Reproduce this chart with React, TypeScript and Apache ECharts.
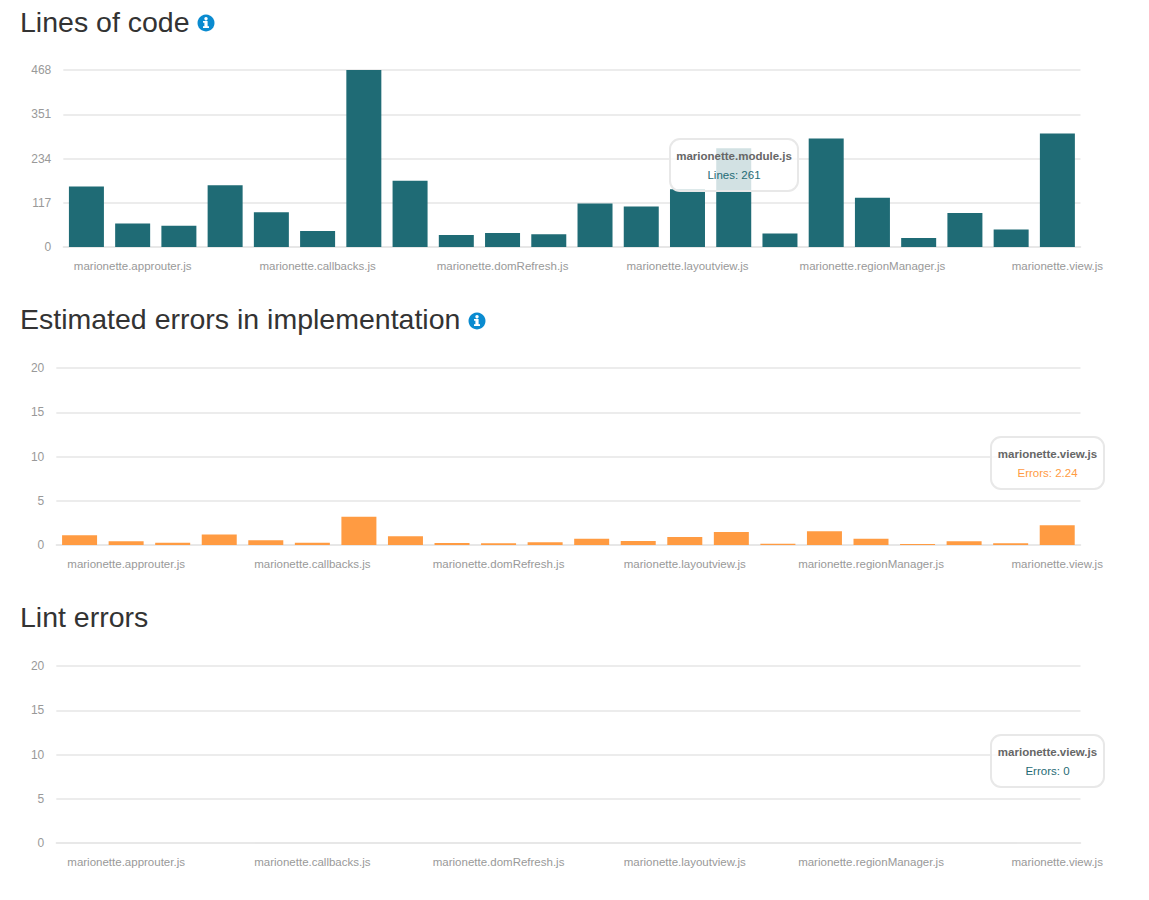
import React, { useEffect, useRef } from "react";
import * as echarts from "echarts";

const categories = [
  "marionette.application.js", "marionette.approuter.js", "marionette.behavior.js", "marionette.behaviors.js",
  "marionette.bindEntityEvents.js", "marionette.callbacks.js", "marionette.collectionview.js", "marionette.compositeview.js",
  "marionette.controller.js", "marionette.domRefresh.js", "marionette.error.js", "marionette.helpers.js",
  "marionette.itemview.js", "marionette.layoutview.js", "marionette.module.js", "marionette.object.js",
  "marionette.region.js", "marionette.regionManager.js", "marionette.renderer.js", "marionette.templateCache.js",
  "marionette.triggerMethod.js", "marionette.view.js",
];
const lines = [160, 62, 56, 163, 92, 42, 468, 175, 32, 37, 34, 115, 107, 153, 261, 36, 287, 130, 24, 90, 46, 300];
const estimatedErrors = [1.09, 0.41, 0.26, 1.2, 0.53, 0.26, 3.2, 0.98, 0.22, 0.19, 0.3, 0.71, 0.45, 0.9, 1.47, 0.15, 1.54, 0.71, 0.11, 0.41, 0.19, 2.24];
const lintErrors = [0, 0, 0, 0, 0, 0, 0, 0, 0, 0, 0, 0, 0, 0, 0, 0, 0, 0, 0, 0, 0, 0];
const titles = ["Lines of code", "Estimated errors in implementation", "Lint errors"];

const FONT = '"Liberation Sans", Arial, sans-serif';
const TEAL = "#1f6b75";
const ORANGE = "#ff9b42";
const GRIDLINE = "#e6e6e6";
const LABEL = "#999999";
const INFO = "#0a8bd0";

function infoIcon(cx: number, cy: number) {
  return [
    { type: "circle", shape: { cx, cy, r: 8.5 }, style: { fill: INFO }, z: 20 },
    { type: "rect", shape: { x: cx - 1.6, y: cy - 2, width: 3.2, height: 6 }, style: { fill: "#fff" }, z: 21 },
    { type: "rect", shape: { x: cx - 3, y: cy + 3.2, width: 6, height: 1.8 }, style: { fill: "#fff" }, z: 21 },
    { type: "rect", shape: { x: cx - 3, y: cy - 2, width: 3, height: 1.7 }, style: { fill: "#fff" }, z: 21 },
    { type: "circle", shape: { cx, cy: cy - 4.2, r: 1.7 }, style: { fill: "#fff" }, z: 21 },
  ];
}

function tip(x: number, y: number, w: number, name: string, row: string, color: string) {
  const cx = x + w / 2;
  return [
    {
      type: "rect",
      shape: { x, y, width: w, height: 52, r: 10 },
      style: { fill: "rgba(255,255,255,0.8)", stroke: "#e8e8e8", lineWidth: 2 },
      z: 30,
    },
    {
      type: "text", x: cx, y: y + 17,
      style: { text: name, font: `bold 11.5px ${FONT}`, fill: "#666666", align: "center", verticalAlign: "middle" },
      z: 31,
    },
    {
      type: "text", x: cx, y: y + 35.5,
      style: { text: row, font: `11.5px ${FONT}`, fill: color, align: "center", verticalAlign: "middle" },
      z: 31,
    },
  ];
}

const gridBoxes = [
  { left: 63.3, top: 70 },
  { left: 56.3, top: 368 },
  { left: 56.3, top: 666 },
];
const seriesList = [
  { name: "Lines", data: lines, color: TEAL, max: 468, interval: 117 },
  { name: "Errors", data: estimatedErrors, color: ORANGE, max: 20, interval: 5 },
  { name: "Errors", data: lintErrors, color: TEAL, max: 20, interval: 5 },
];

export default function App() {
  const ref = useRef<HTMLDivElement>(null);
  useEffect(() => {
    const chart = echarts.init(ref.current!, null, { renderer: "svg" });
    chart.setOption({
      animation: false,
      backgroundColor: "#ffffff",
      title: titles.map((text, i) => ({
        text,
        left: 20,
        top: [7.5, 304.5, 602.5][i],
        padding: 0,
        textStyle: { fontFamily: FONT, fontSize: 28.5, fontWeight: "normal", color: "#333333" },
      })),
      grid: gridBoxes.map((g) => ({ left: g.left, top: g.top, width: 1080.5 - g.left, height: 177 })),
      xAxis: gridBoxes.map((_, i) => ({
        type: "category",
        gridIndex: i,
        data: categories,
        axisTick: { show: false },
        axisLine: { show: true, lineStyle: { color: GRIDLINE, width: 1.5 } },
        axisLabel: {
          interval: (idx: number) => idx % 4 === 1,
          color: LABEL,
          fontFamily: FONT,
          fontSize: 11.5,
          margin: 13,
          hideOverlap: false,
        },
      })),
      yAxis: seriesList.map((s, i) => ({
        type: "value",
        gridIndex: i,
        min: 0,
        max: s.max,
        interval: s.interval,
        axisLine: { show: false },
        axisTick: { show: false },
        axisLabel: { color: LABEL, fontFamily: FONT, fontSize: 12, margin: 12, padding: [1, 0, 0, 0] },
        splitLine: { lineStyle: { color: GRIDLINE, width: 1.5 } },
      })),
      series: seriesList.map((s, i) => ({
        type: "bar",
        name: s.name,
        xAxisIndex: i,
        yAxisIndex: i,
        data: s.data,
        barWidth: 35,
        itemStyle: { color: s.color },
      })),
      graphic: [
        ...infoIcon(206, 23),
        ...infoIcon(477, 321),
        ...tip(670, 139, 128, categories[14], `Lines: ${lines[14]}`, TEAL),
        ...tip(991, 437, 113, categories[21], `Errors: ${estimatedErrors[21]}`, ORANGE),
        ...tip(991, 735, 113, categories[21], `Errors: ${lintErrors[21]}`, TEAL),
      ],
    });
    return () => chart.dispose();
  }, []);
  return <div ref={ref} style={{ position: "absolute", left: 0, top: 0, width: 1149, height: 900 }} />;
}
